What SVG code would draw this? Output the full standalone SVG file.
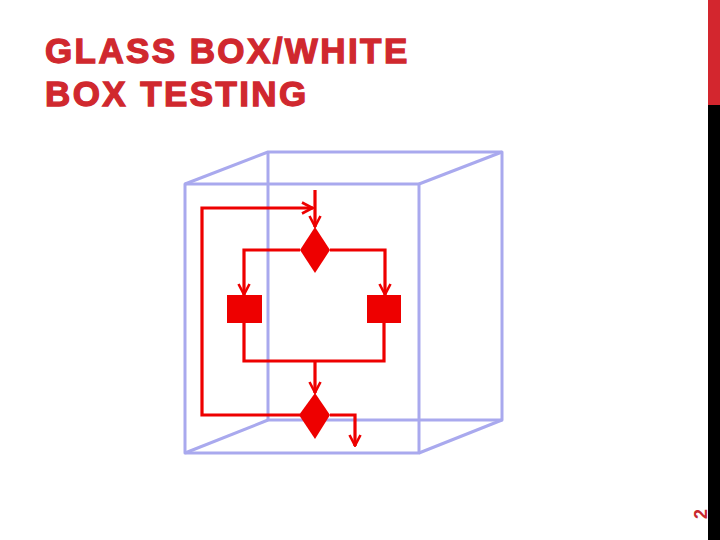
<svg xmlns="http://www.w3.org/2000/svg" width="720" height="540" viewBox="0 0 720 540">
<style>
.title{font-family:"Liberation Sans",Arial,sans-serif;font-weight:bold;font-size:35px;fill:#d0282e;stroke:#d0282e;stroke-width:1.3px;letter-spacing:2.4px}
.cube{fill:none;stroke:#a9a9ee;stroke-width:3;stroke-linejoin:round}
.flow{fill:none;stroke:#ee0000;stroke-width:3.2;stroke-linejoin:miter}
.shape{fill:#ee0000;stroke:none}
.pg{font-family:"Liberation Sans",Arial,sans-serif;font-weight:bold;font-size:18px;fill:#c8282e}
</style>
<defs>
<marker id="arr" viewBox="0 0 14 14" refX="13" refY="7" markerWidth="14" markerHeight="14" markerUnits="userSpaceOnUse" orient="auto">
<path d="M2,1.5 L12.5,7 L2,12.5" fill="none" stroke="#ee0000" stroke-width="2.6"/>
</marker>
</defs>
<rect width="720" height="540" fill="#ffffff"/>
<rect x="708" y="0" width="12" height="105" fill="#d3262e"/>
<rect x="708" y="105" width="12" height="435" fill="#000000"/>
<text class="pg" transform="translate(707,514) rotate(-90)" text-anchor="middle">2</text>
<text class="title" x="45" y="63">GLASS BOX/WHITE</text>
<text class="title" x="45" y="106">BOX TESTING</text>
<g id="cube">
<polygon class="cube" points="268,152 502,152 502,420 268,420"/>
<polygon class="cube" points="185,184 419,184 419,453 185,453"/>
<line class="cube" x1="185" y1="184" x2="268" y2="152"/>
<line class="cube" x1="419" y1="184" x2="502" y2="152"/>
<line class="cube" x1="419" y1="453" x2="502" y2="420"/>
<line class="cube" x1="185" y1="453" x2="268" y2="420"/>
</g>
<g id="decision1"><polygon class="shape" points="315,227 330,250 315,273 300,250"/></g>
<g id="process1"><rect class="shape" x="227" y="295" width="35" height="28"/></g>
<g id="process2"><rect class="shape" x="367" y="295" width="34" height="28"/></g>
<g id="decision2"><polygon class="shape" points="315,393 330,415 315,439 299,415"/></g>
<g id="connectors">
<path class="flow" d="M315,190 L315,227" marker-end="url(#arr)"/>
<path class="flow" d="M300,415 L202,415 L202,208 L313,208" marker-end="url(#arr)"/>
<path class="flow" d="M300,250 L244,250 L244,295" marker-end="url(#arr)"/>
<path class="flow" d="M330,250 L385,250 L385,295" marker-end="url(#arr)"/>
<path class="flow" d="M244,323 L244,361 L384,361 L384,323"/>
<path class="flow" d="M315,361 L315,393" marker-end="url(#arr)"/>
<path class="flow" d="M330,415 L355,415 L355,446" marker-end="url(#arr)"/>
</g>
</svg>
